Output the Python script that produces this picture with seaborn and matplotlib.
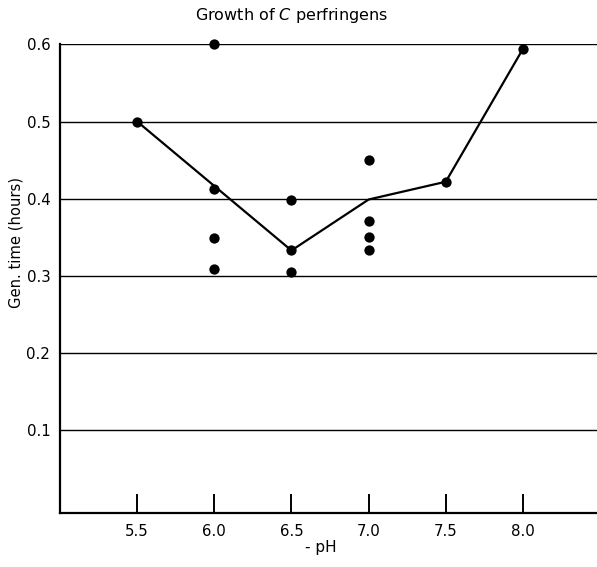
import matplotlib
matplotlib.use("Agg")
import matplotlib.pyplot as plt
import seaborn as sns
import pandas as pd

# Individual generation-time measurements
ph_obs = [5.5, 6.0, 6.0, 6.0, 6.0, 6.5, 6.5, 6.5, 7.0, 7.0, 7.0, 7.0, 7.5, 8.0]
gen_obs = [0.500, 0.600, 0.413, 0.349, 0.309, 0.398, 0.333, 0.305,
           0.450, 0.371, 0.351, 0.333, 0.422, 0.594]

# Fitted curve through the measurements
ph_fit = [5.5, 6.5, 7.0, 7.5, 8.0]
gen_fit = [0.500, 0.333, 0.399, 0.422, 0.594]

x_ticks = [5.5, 6.0, 6.5, 7.0, 7.5, 8.0]
y_ticks = [0.1, 0.2, 0.3, 0.4, 0.5, 0.6]

obs = pd.DataFrame({"pH": ph_obs, "gen": gen_obs})
fit = pd.DataFrame({"pH": ph_fit, "gen": gen_fit})

sns.set_style("white")
plt.rcParams["font.family"] = ["DejaVu Sans"]
plt.rcParams["text.color"] = "black"
plt.rcParams["xtick.color"] = "black"
plt.rcParams["ytick.color"] = "black"

fig = plt.figure(figsize=(5.97, 5.67), dpi=100)
ax = fig.add_axes([0.1005, 0.0952, 0.8995, 0.8267])

sns.lineplot(data=fit, x="pH", y="gen", ax=ax, color="black",
             linewidth=1.6, estimator=None, sort=False, zorder=3)
sns.scatterplot(data=obs, x="pH", y="gen", ax=ax, color="black",
                s=55, edgecolor="black", linewidth=0, zorder=4, clip_on=False)

ax.set_xlim(5.0, 8.48)
ax.set_ylim(-0.007, 0.6)
ax.set_xticks(x_ticks)
ax.set_xticklabels([f"{v:.1f}" for v in x_ticks], fontsize=10.8)
ax.set_yticks(y_ticks)
ax.set_yticklabels([f"{v:.1f}" for v in y_ticks], fontsize=10.8)

ax.yaxis.grid(True, color="black", linewidth=1.0)
ax.xaxis.grid(False)
ax.set_axisbelow(True)

for side in ("top", "right"):
    ax.spines[side].set_visible(False)
for side in ("left", "bottom"):
    ax.spines[side].set_color("black")
    ax.spines[side].set_linewidth(1.6)

ax.tick_params(axis="x", direction="in", length=13.5, width=1.4,
               color="black", labelcolor="black", pad=8, bottom=True)
ax.tick_params(axis="y", length=0, pad=7, left=False, labelcolor="black")

ax.set_xlabel("")
ax.set_ylabel("")

fig.text(0.489, 0.973, "Growth of $\\mathit{C}$ perfringens",
         ha="center", va="center", fontsize=11.5, color="black")
fig.text(0.538, 0.034, "- pH", ha="center", va="center", fontsize=11,
         color="black")
fig.text(0.026, 0.573, "Gen. time (hours)", ha="center", va="center",
         rotation=90, fontsize=10.6, color="black")

fig.savefig("out.png", dpi=100)
